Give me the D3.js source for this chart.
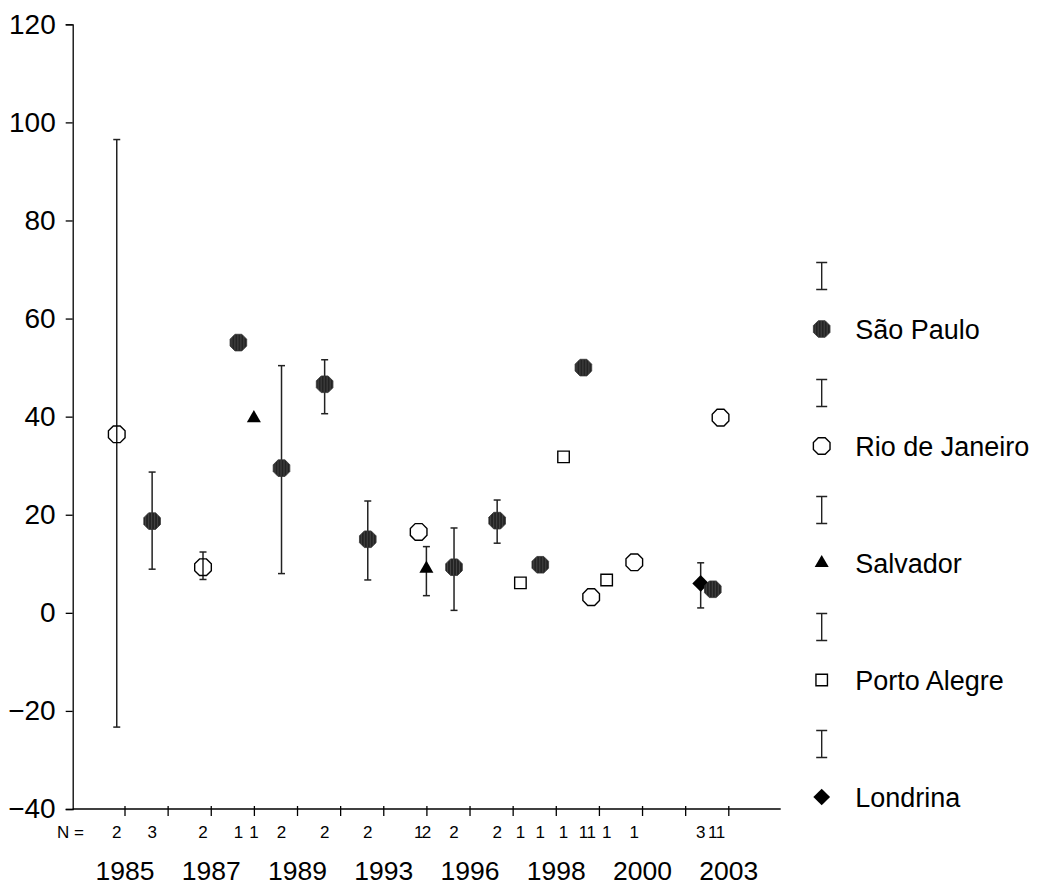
<html>
    <head>
        <title>Error bars by city</title>
        <script language="javascript" type="text/javascript"
                src="https://d3js.org/d3.v7.min.js"></script>
        <style>
            body { margin: 0; background: white; }
            text { font-family: "Liberation Sans", Arial, sans-serif; fill: black; }
        </style>
    </head>
    <body>
        <div id="chart"></div>
    </body>
</html>

<script type="text/javascript">

    // categories on the x axis (only every other one gets a label)
    var years = ["1985", "1986", "1987", "1988", "1989", "1991", "1993", "1995",
                 "1996", "1997", "1998", "1999", "2000", "2002", "2003"];
    var yearLabels = ["1985", "1987", "1989", "1993", "1996", "1998", "2000", "2003"];
    var yTicks = [-40, -20, 0, 20, 40, 60, 80, 100, 120];

    // clusters
    var cities = ["São Paulo", "Rio de Janeiro", "Salvador", "Porto Alegre", "Londrina"];

    // one entry per plotted point
    var ptYear = ["1985", "1986", "1987", "1988", "1988", "1989", "1991", "1993", "1995", "1995", "1996",
                  "1997", "1997", "1998", "1998", "1999", "1999", "1999", "2000", "2002", "2003", "2003"];
    var ptCity = ["Rio de Janeiro", "São Paulo", "Rio de Janeiro", "São Paulo", "Salvador", "São Paulo",
                  "São Paulo", "São Paulo", "Rio de Janeiro", "Salvador", "São Paulo",
                  "São Paulo", "Porto Alegre", "São Paulo", "Porto Alegre", "São Paulo", "Rio de Janeiro",
                  "Porto Alegre", "Rio de Janeiro", "Londrina", "São Paulo", "Rio de Janeiro"];
    var ptMean = [36.4, 18.7, 9.3, 55.1, 39.7, 29.5, 46.6, 15.0, 16.5, 9.0, 9.3,
                  18.8, 6.1, 9.8, 31.8, 50.0, 3.2, 6.7, 10.3, 6.0, 4.8, 39.8];
    var ptLow  = [-23.3, 8.9, 6.8, null, null, 8.0, 40.6, 6.7, null, 3.5, 0.5,
                  14.2, null, null, null, null, null, null, null, 1.0, null, null];
    var ptHigh = [96.5, 28.7, 12.4, null, null, 50.4, 51.6, 22.8, null, 13.5, 17.3,
                  23.0, null, null, null, null, null, null, null, 10.2, null, null];
    var ptN    = [2, 3, 2, 1, 1, 2, 2, 2, 1, 2, 2,
                  2, 1, 1, 1, 1, 1, 1, 1, 3, 1, 1];

    var data = ptYear.map(function(d, i) {
        return { year: d, city: ptCity[i], mean: ptMean[i], lo: ptLow[i], hi: ptHigh[i], n: ptN[i] };
    });

    var width = 1037,
        height = 885;

    var svg = d3.select("#chart")
        .append("svg")
        .attr("width", width)
        .attr("height", height)
        .style("background", "white");

    // hatched fill for Sao Paulo
    var pat = svg.append("defs").append("pattern")
        .attr("id", "hatch")
        .attr("patternUnits", "userSpaceOnUse")
        .attr("width", 3)
        .attr("height", 4);
    pat.append("rect").attr("width", 3).attr("height", 4).attr("fill", "#444");
    pat.append("line").attr("x1", 1).attr("x2", 1).attr("y1", 0).attr("y2", 4)
        .attr("stroke", "#0d0d0d").attr("stroke-width", 1.2);

    // scales
    var x = d3.scalePoint()
        .domain(years)
        .range([124.5, 728.3]);

    var cluster = d3.scalePoint()
        .domain(cities)
        .range([-15.5, 15.5]);

    var y = d3.scaleLinear()
        .domain([-40, 120])
        .range([809, 24.3]);

    var px = function(d) { return x(d.year) + cluster(d.city); };

    // Y axis
    var yAxis = svg.append("g")
        .attr("transform", "translate(72.7,0)")
        .call(d3.axisLeft(y).tickValues(yTicks).tickSize(7).tickPadding(10));
    yAxis.select(".domain").attr("stroke", "black").attr("stroke-width", 1.3);
    yAxis.selectAll(".tick line").attr("stroke", "black").attr("stroke-width", 1.3);
    yAxis.selectAll("text")
        .style("font-size", "28px")
        .style("font-family", "'Liberation Sans', Arial, sans-serif");

    // X axis
    var xAxis = svg.append("g")
        .attr("transform", "translate(0,809)")
        .call(d3.axisBottom(x)
            .tickSize(7)
            .tickPadding(45)
            .tickFormat(function(d) { return yearLabels.indexOf(d) >= 0 ? d : ""; }));
    xAxis.select(".domain").remove();
    xAxis.selectAll(".tick line").attr("stroke", "black").attr("stroke-width", 1.3)
        .attr("y1", -3);
    xAxis.selectAll("text")
        .style("font-size", "26.5px")
        .style("font-family", "'Liberation Sans', Arial, sans-serif");

    svg.append("line")
        .attr("x1", 72.7).attr("x2", 780.7)
        .attr("y1", 809).attr("y2", 809)
        .attr("stroke", "black")
        .attr("stroke-width", 1.3);

    // N labels
    svg.append("text")
        .attr("x", 84)
        .attr("y", 838)
        .attr("text-anchor", "end")
        .style("font-size", "17px")
        .text("N =");

    svg.append("g")
        .selectAll("text")
        .data(data)
        .enter()
        .append("text")
            .attr("x", px)
            .attr("y", 838)
            .attr("text-anchor", "middle")
            .style("font-size", "17px")
            .text(function(d) { return d.n; });

    // markers
    var octagon = function(r) {
        var pts = d3.range(8).map(function(k) {
            var a = Math.PI / 8 + k * Math.PI / 4;
            return [r * Math.cos(a), r * Math.sin(a)];
        });
        return "M" + pts.join("L") + "Z";
    };

    var marker = function(sel, city) {
        if (city == "São Paulo") {
            sel.append("path").attr("d", octagon(9)).attr("fill", "url(#hatch)")
                .attr("stroke", "#333").attr("stroke-width", 0.8);
        } else if (city == "Rio de Janeiro") {
            sel.append("path").attr("d", octagon(9)).attr("fill", "none")
                .attr("stroke", "black").attr("stroke-width", 1.4);
        } else if (city == "Salvador") {
            sel.append("path").attr("d", d3.symbol(d3.symbolTriangle, 85)()).attr("fill", "black");
        } else if (city == "Porto Alegre") {
            sel.append("path").attr("d", d3.symbol(d3.symbolSquare, 132)()).attr("fill", "white")
                .attr("stroke", "black").attr("stroke-width", 1.4);
        } else {
            sel.append("path").attr("d", d3.symbol(d3.symbolSquare, 140)()).attr("fill", "black")
                .attr("transform", "rotate(45)");
        }
    };

    // error bars
    var bars = svg.append("g")
        .selectAll("g")
        .data(data.filter(function(d) { return d.lo != null; }))
        .enter()
        .append("g")
        .attr("stroke", "#222")
        .attr("stroke-width", 1.5);
    bars.append("line")
        .attr("x1", px).attr("x2", px)
        .attr("y1", function(d) { return y(d.lo); })
        .attr("y2", function(d) { return y(d.hi); });
    bars.append("line")
        .attr("x1", function(d) { return px(d) - 3.5; })
        .attr("x2", function(d) { return px(d) + 3.5; })
        .attr("y1", function(d) { return y(d.lo); })
        .attr("y2", function(d) { return y(d.lo); });
    bars.append("line")
        .attr("x1", function(d) { return px(d) - 3.5; })
        .attr("x2", function(d) { return px(d) + 3.5; })
        .attr("y1", function(d) { return y(d.hi); })
        .attr("y2", function(d) { return y(d.hi); });

    // points
    svg.append("g")
        .selectAll("g")
        .data(data)
        .enter()
        .append("g")
            .attr("transform", function(d) { return "translate(" + px(d) + "," + y(d.mean) + ")"; })
            .each(function(d) { marker(d3.select(this), d.city); });

    // legend
    var legY = d3.scalePoint().domain(cities).range([329, 797]);

    var leg = svg.append("g")
        .selectAll("g")
        .data(cities)
        .enter()
        .append("g")
        .attr("transform", function(d) { return "translate(821.7," + legY(d) + ")"; });

    leg.append("path")
        .attr("d", "M-5.5,-66.5H5.5M0,-66.5V-39.5M-5.5,-39.5H5.5")
        .attr("fill", "none")
        .attr("stroke", "#222")
        .attr("stroke-width", 1.4);

    leg.each(function(d) { marker(d3.select(this), d); });

    leg.append("text")
        .attr("x", 33.5)
        .attr("y", 10)
        .style("font-size", "27px")
        .text(function(d) { return d; });

</script>
